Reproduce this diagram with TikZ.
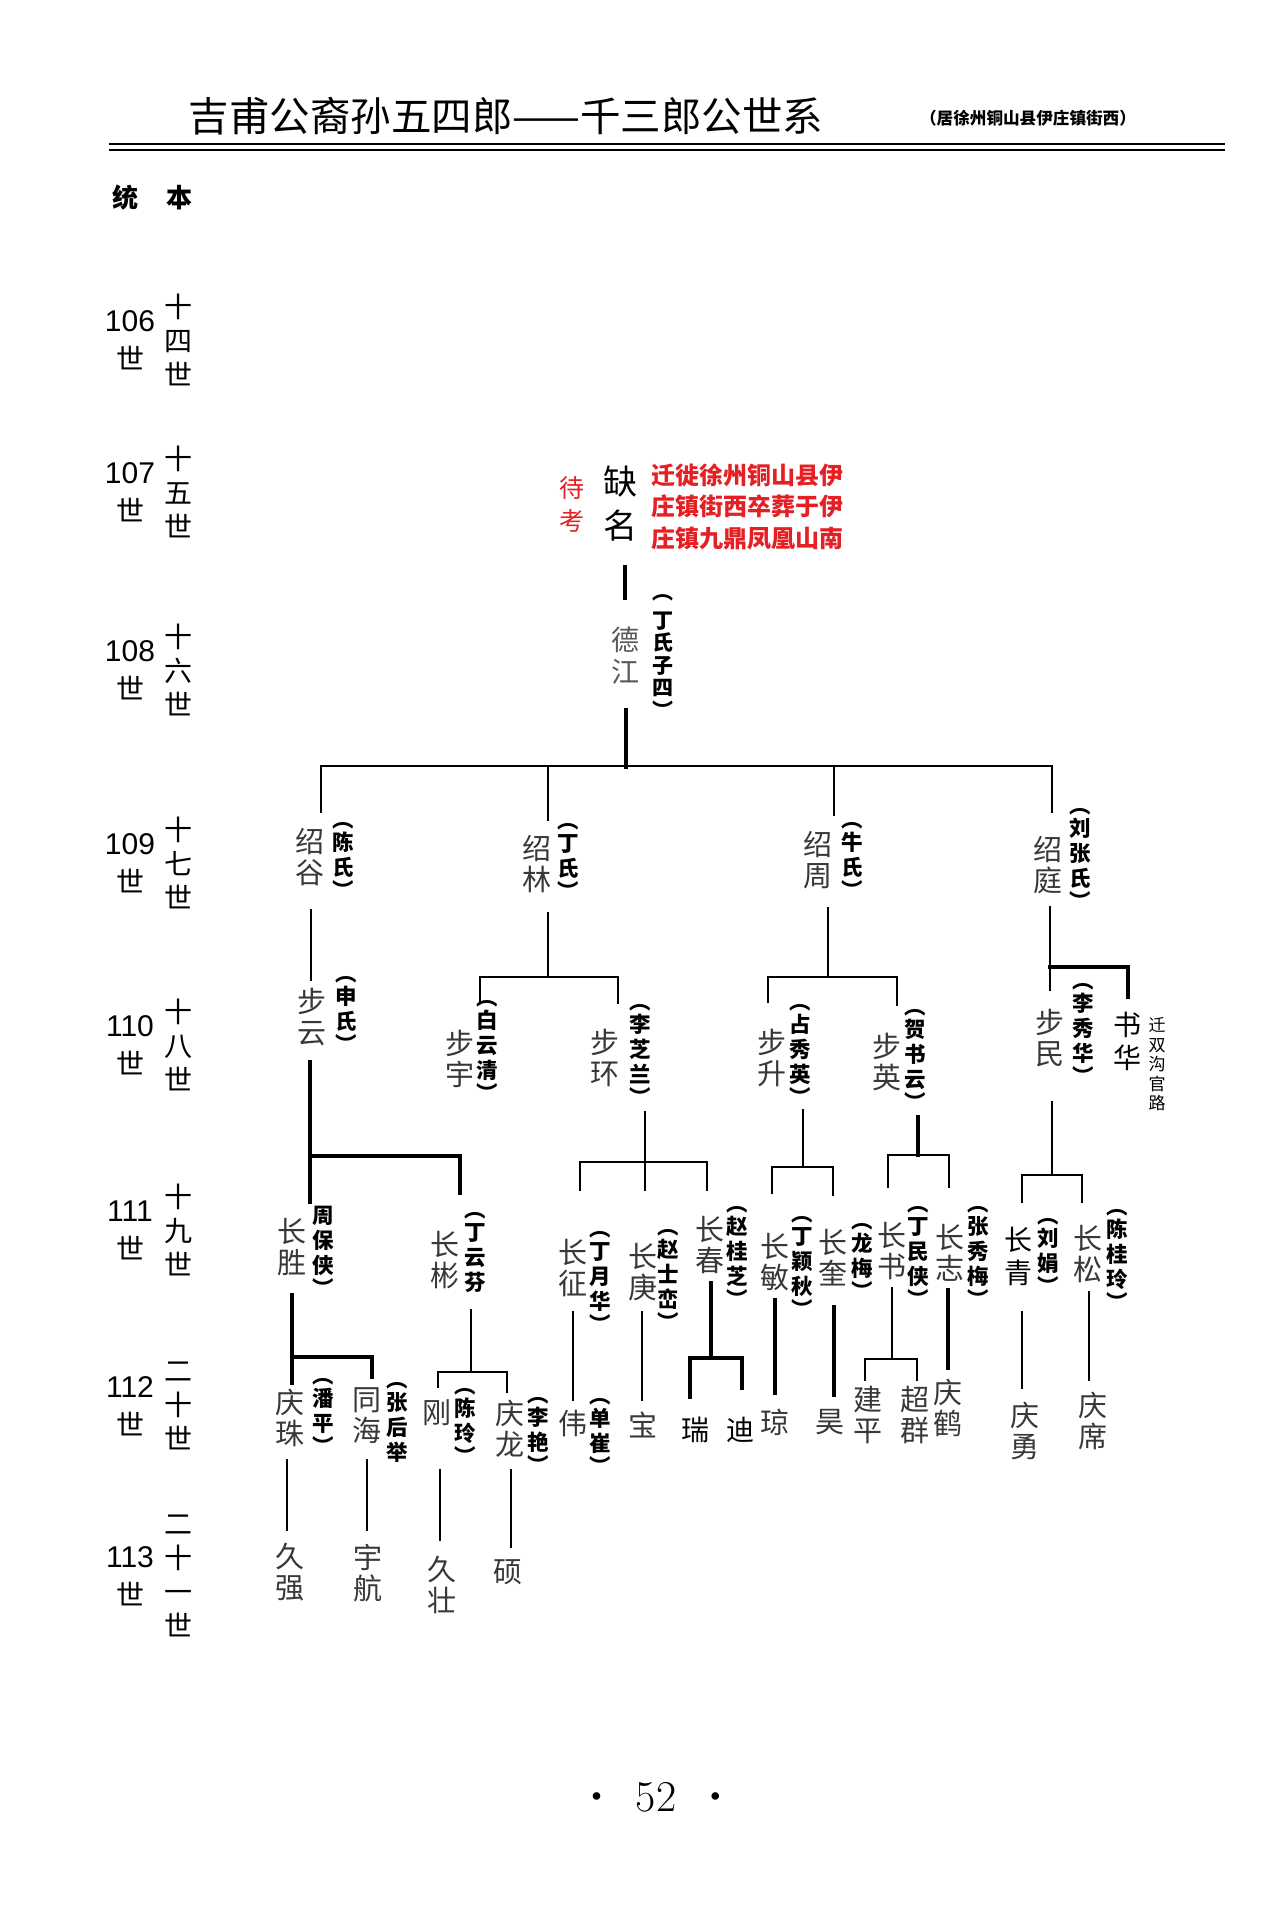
\documentclass[tikz,border=0pt]{standalone}
\usepackage{fontspec}
\newfontfamily\cjk{Noto Sans CJK SC}
\newfontfamily\lat{Liberation Sans}
\definecolor{notered}{RGB}{228,32,36}
% vertical spouse name with parentheses
\newcommand\vsp[1]{︵\\[-2pt]#1\\[-2pt]︶}
\begin{document}
\begin{tikzpicture}[x=1pt,y=-1pt]
\tikzset{
  nm/.style={font=\cjk\fontsize{29}{31}\selectfont,text=black!78,align=center,inner sep=0pt},
  sp/.style={font=\cjk\bfseries\fontsize{21.5}{25}\selectfont,align=center,inner sep=0pt},
  hb/.style={font=\cjk\fontsize{28}{33}\selectfont,align=center,inner sep=0pt},
  gl/.style={font=\cjk\fontsize{28}{34}\selectfont,align=center,inner sep=0pt},
  gn/.style={font=\lat\fontsize{30}{38}\selectfont,align=center,inner sep=0pt},
  ln/.style={line width=1.6pt,line cap=rect},
  tk/.style={line width=3.8pt,line cap=rect}}
\fill[white] (0,0) rectangle (1279,1907);
\useasboundingbox (0,0) rectangle (1279,1907);
% header
\node[font=\cjk\fontsize{40.5}{41}\selectfont] (tt) at (506,116) {吉甫公裔孙五四郎——千三郎公世系};
\node[font=\cjk\bfseries\fontsize{16.6}{17}\selectfont] (tn) at (1028,118) {（居徐州铜山县伊庄镇街西）};
\draw[line width=2.6pt] (109,144) -- (1225,144);
\draw[line width=1.6pt] (109,150) -- (1225,150);
\node[font=\cjk\bfseries\fontsize{26}{26}\selectfont] (tb) at (152.5,198) {统\hspace{29pt}本};
% generations
\foreach \g/\y/\t in {106/340/{十\\四\\世},107/492/{十\\五\\世},108/670/{十\\六\\世},
    109/863/{十\\七\\世},110/1045/{十\\八\\世},111/1230/{十\\九\\世},
    112/1406/{二\\十\\世},113/1576/{二\\十\\一\\世}}{
  \node[gn] (n\g) at (130,\y) {\g\\{\cjk\fontsize{28}{38}\selectfont 世}};
  \node[gl] (c\g) at (178,\y) {\t};
}
% 107 / 108
\node[font=\cjk\fontsize{25}{33}\selectfont,text=notered,align=center,inner sep=0pt] (dk) at (572,504) {待\\考};
\node[font=\cjk\fontsize{34}{44}\selectfont,align=center,inner sep=0pt] (qm) at (620,504) {缺\\名};
\node[font=\cjk\bfseries\fontsize{24}{31.5}\selectfont,text=notered,align=left] (qt) at (747.5,506.5)
  {迁徙徐州铜山县伊\\庄镇街西卒葬于伊\\庄镇九鼎凤凰山南};
\node[nm,text=black!65,font=\cjk\fontsize{28}{32}\selectfont] (dj) at (625,656) {德\\江};
\node[sp,font=\cjk\bfseries\fontsize{21}{22.5}\selectfont] (djw) at (663,656.5) {︵\\[6pt]丁\\氏\\子\\四\\︶};
% 109
\node[nm] (sg) at (310,857.5) {绍\\谷};
\node[sp] (sgw) at (343,860) {\vsp{陈\\氏}};
\node[nm] (sl) at (537,864) {绍\\林};
\node[sp] (slw) at (568,861.5) {\vsp{丁\\氏}};
\node[nm] (sz) at (818,860) {绍\\周};
\node[sp] (szw) at (852,860) {\vsp{牛\\氏}};
\node[nm] (st) at (1048,865) {绍\\庭};
\node[sp] (stw) at (1080,858.5) {\vsp{刘\\张\\氏}};
% 110
\node[nm] (by) at (312,1017) {步\\云};
\node[sp] (byw) at (346,1014) {\vsp{申\\氏}};
\node[nm] (byu) at (460,1058.5) {步\\宇};
\node[sp] (byuw) at (487,1051) {\vsp{白\\云\\清}};
\node[nm] (bh) at (605,1058) {步\\环};
\node[sp] (bhw) at (640,1054.5) {\vsp{李\\芝\\兰}};
\node[nm] (bs) at (772,1058) {步\\升};
\node[sp] (bsw) at (800,1055) {\vsp{占\\秀\\英}};
\node[nm] (bys) at (887,1062) {步\\英};
\node[sp] (bysw) at (915,1060) {\vsp{贺\\书\\云}};
\node[nm] (bm) at (1050,1038) {步\\民};
\node[sp] (bmw) at (1083,1033.5) {\vsp{李\\秀\\华}};
\node[hb] (sh) at (1127,1041.5) {书\\华};
\node[font=\cjk\fontsize{17}{19.5}\selectfont,align=center,inner sep=0pt] (shn) at (1157,1064.5) {迁\\双\\沟\\官\\路};
% 111
\node[nm] (cs) at (292,1247) {长\\胜};
\node[sp] (csw) at (323,1251.5) {周\\保\\侠\\[-2pt]︶};
\node[nm] (cb) at (445,1260) {长\\彬};
\node[sp] (cbw) at (475,1253) {︵\\[-2pt]丁\\云\\芬};
\node[nm] (cz) at (573,1268) {长\\征};
\node[sp] (czw) at (600,1281.5) {\vsp{丁\\月\\华}};
\node[nm] (cg) at (643,1272) {长\\庚};
\node[sp] (cgw) at (668,1280) {\vsp{赵\\士\\峦}};
\node[nm] (cc) at (710,1245) {长\\春};
\node[sp] (ccw) at (737,1256.5) {\vsp{赵\\桂\\芝}};
\node[nm] (cmn) at (775,1262.5) {长\\敏};
\node[sp] (cmnw) at (802,1266.5) {\vsp{丁\\颖\\秋}};
\node[nm] (ck) at (833,1258) {长\\奎};
\node[sp] (ckw) at (862,1261.5) {\vsp{龙\\梅}};
\node[nm] (csh) at (892,1251) {长\\书};
\node[sp] (cshw) at (918,1256.5) {\vsp{丁\\民\\侠}};
\node[nm] (czh) at (950,1252.5) {长\\志};
\node[sp] (czhw) at (978,1256.5) {\vsp{张\\秀\\梅}};
\node[hb] (cq) at (1018,1256.5) {长\\青};
\node[sp] (cqw) at (1048,1256) {\vsp{刘\\娟}};
\node[nm] (csg) at (1088,1254) {长\\松};
\node[sp] (csgw) at (1117,1260) {\vsp{陈\\桂\\玲}};
% 112
\node[nm] (qz) at (290,1417.5) {庆\\珠};
\node[sp] (qzw) at (323,1416.5) {\vsp{潘\\平}};
\node[nm] (th) at (367,1416) {同\\海};
\node[sp] (thw) at (397,1422) {︵\\[-2pt]张\\后\\举};
\node[nm] (g) at (437,1413) {刚};
\node[sp] (gw) at (465,1426) {\vsp{陈\\玲}};
\node[nm] (ql) at (510,1429) {庆\\龙};
\node[sp] (qlw) at (538,1435) {\vsp{李\\艳}};
\node[nm] (w) at (573,1423) {伟};
\node[sp] (ww) at (600,1436) {\vsp{单\\崔}};
\node[nm] (bao) at (643,1425) {宝};
\node[hb] (rui) at (695,1430) {瑞};
\node[hb] (di) at (740,1430) {迪};
\node[nm] (qio) at (775,1422) {琼};
\node[nm] (hao) at (830,1422) {昊};
\node[nm] (jp) at (868,1415) {建\\平};
\node[nm] (cqun) at (915,1415) {超\\群};
\node[nm] (qh) at (948,1407.5) {庆\\鹤};
\node[nm] (qyo) at (1025,1431) {庆\\勇};
\node[nm] (qxi) at (1093,1421) {庆\\席};
% 113
\node[nm] (jqi) at (290,1572.5) {久\\强};
\node[nm] (yha) at (368,1573) {宇\\航};
\node[nm] (jzh) at (442,1585) {久\\壮};
\node[nm] (shu) at (508,1572) {硕};
% page number
\node[font=\fontsize{44}{50}\selectfont] (pg) at (656,1797)
  {\raisebox{6pt}{\fontsize{34}{40}\selectfont\textbullet}\hspace{27pt}52\hspace{27pt}\raisebox{6pt}{\fontsize{34}{40}\selectfont\textbullet}};
% lines
\draw[line width=2.2pt,line cap=rect] ([xshift=11]sg |- 0,766) -- ([xshift=4]st |- 0,766);
\foreach \n/\dx/\ya/\yb in {qm/5/567/598,dj/1/710/767,by/-2/1062/1202,cb/15/1156/1193,
    sh/1/967/997,cs/0/1295/1383,th/5/1357/1377,cc/1/1283/1358,rui/-5/1358/1397,
    di/2/1358/1388,cmn/0/1300/1393,ck/1/1307/1395,bysw/3/1117/1155,czh/-2/1290/1368}
  \draw[tk] ([xshift=\dx]\n |- 0,\ya) -- ([xshift=\dx]\n |- 0,\yb);
\foreach \n/\dx/\ya/\yb in {sg/11/766/812,sl/11/766/820,sz/16/766/815,st/4/766/812,
    sg/1/910/980,sl/11/913/977,byu/20/977/1003,bh/13/977/1003,
    sz/10/908/977,bs/-4/977/1002,bys/10/977/1005,st/2/907/990,
    bhw/5/1112/1162,cz/7/1162/1190,cg/2/1162/1190,cc/-3/1162/1190,
    bsw/3/1110/1167,cmn/-3/1167/1193,ck/0/1167/1195,
    csh/-4/1155/1187,czh/-1/1155/1187,
    bm/2/1102/1175,cq/4/1175/1202,csg/-6/1175/1202,
    cbw/-4/1310/1372,g/1/1372/1387,ql/-3/1372/1392,
    cz/0/1312/1400,cg/-1/1312/1400,
    csh/0/1288/1359,jp/-3/1359/1380,cqun/2/1359/1380,
    cq/4/1312/1388,csg/1/1292/1380,
    qz/-3/1460/1530,th/0/1460/1530,g/3/1470/1540,ql/1/1470/1547}
  \draw[ln] ([xshift=\dx]\n |- 0,\ya) -- ([xshift=\dx]\n |- 0,\yb);
\foreach \a/\da/\b/\db/\y in {byu/20/bh/13/977,bs/-4/bys/10/977,cz/7/cc/-3/1162,
    cmn/-3/ck/0/1167,csh/-4/czh/-1/1155,cq/4/csg/-6/1175,g/1/ql/-3/1372,jp/-3/cqun/2/1359}
  \draw[ln] ([xshift=\da]\a |- 0,\y) -- ([xshift=\db]\b |- 0,\y);
\foreach \a/\da/\b/\db/\y in {st/2/sh/1/967,by/-2/cb/15/1156,cs/0/th/5/1357,rui/-5/di/2/1358}
  \draw[tk] ([xshift=\da]\a |- 0,\y) -- ([xshift=\db]\b |- 0,\y);
\end{tikzpicture}
\end{document}
